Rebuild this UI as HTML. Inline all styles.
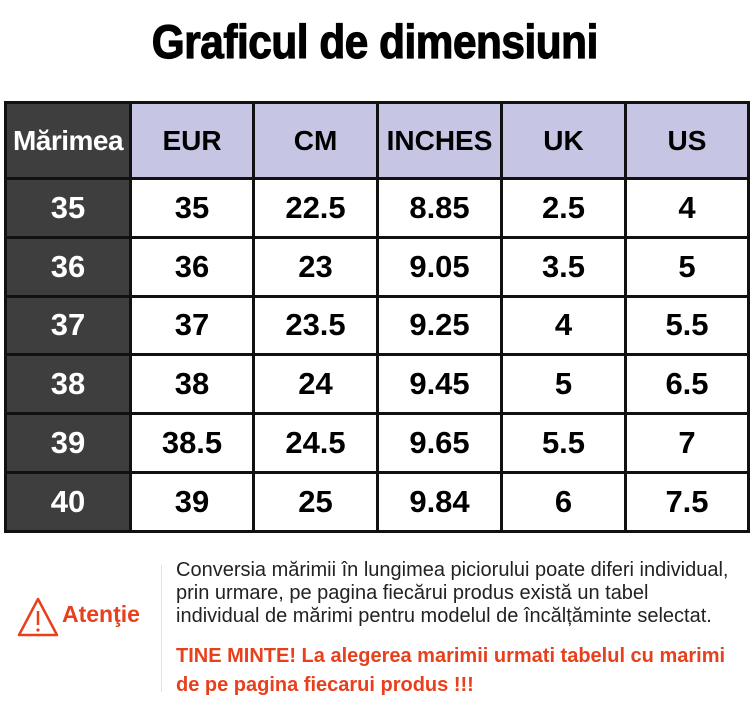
<!DOCTYPE html>
<html><head><meta charset="utf-8"><style>
body{margin:0;width:750px;height:716px;background:#fff;position:relative;overflow:hidden;font-family:"Liberation Sans",Arial,sans-serif}
.title{position:absolute;left:0;width:750px;top:14px;text-align:center}
.title span{display:inline-block;font-weight:bold;font-size:47px;transform:scaleX(0.9);letter-spacing:-0.5px;color:#000;-webkit-text-stroke:1.2px #000}
table{position:absolute;left:4px;top:101px;border-collapse:collapse}
td{border:3px solid #111;text-align:center;font-weight:bold;padding:0;color:#000}
tr.h td{height:73px;background:#c6c6e4;font-size:28px}
tr.r td{height:55.8px;font-size:31px}
td.d,tr.h td.d{background:#3e3e3e;color:#fff}
tr.h td.d{font-size:28px;letter-spacing:-0.5px}
.sep{position:absolute;left:161px;top:565px;width:1px;height:127px;background:#e2e2e2}
.att{position:absolute;left:62px;top:601px;color:#e8401c;font-weight:bold;font-size:23px}
.txt{position:absolute;left:176px;top:559px;font-size:20px;line-height:22.8px;color:#222;white-space:nowrap}
.red{position:absolute;left:176px;top:642px;font-size:20px;line-height:29px;color:#e8401c;font-weight:bold;white-space:nowrap}
</style></head><body>
<div class="title"><span>Graficul de dimensiuni</span></div>
<table>
<colgroup><col style="width:125px"><col style="width:123px"><col style="width:124px"><col style="width:124px"><col style="width:124px"><col style="width:123px"></colgroup>
<tr class="h"><td class="d">Mărimea</td><td>EUR</td><td>CM</td><td>INCHES</td><td>UK</td><td>US</td></tr>
<tr class="r"><td class="d">35</td><td>35</td><td>22.5</td><td>8.85</td><td>2.5</td><td>4</td></tr>
<tr class="r"><td class="d">36</td><td>36</td><td>23</td><td>9.05</td><td>3.5</td><td>5</td></tr>
<tr class="r"><td class="d">37</td><td>37</td><td>23.5</td><td>9.25</td><td>4</td><td>5.5</td></tr>
<tr class="r"><td class="d">38</td><td>38</td><td>24</td><td>9.45</td><td>5</td><td>6.5</td></tr>
<tr class="r"><td class="d">39</td><td>38.5</td><td>24.5</td><td>9.65</td><td>5.5</td><td>7</td></tr>
<tr class="r"><td class="d">40</td><td>39</td><td>25</td><td>9.84</td><td>6</td><td>7.5</td></tr>
</table>
<svg style="position:absolute;left:16px;top:596px" width="44" height="42"><polygon points="22,3 41,39 3,39" fill="none" stroke="#e8401c" stroke-width="2.5" stroke-linejoin="round"/><line x1="22" y1="15" x2="22" y2="29" stroke="#e8401c" stroke-width="2.5"/><circle cx="22" cy="34" r="1.6" fill="#e8401c"/></svg>
<div class="att">Atenţie</div>
<div class="sep"></div>
<div class="txt">Conversia mărimii în lungimea piciorului poate diferi individual,<br>prin urmare, pe pagina fiecărui produs există un tabel<br>individual de mărimi pentru modelul de încălțăminte selectat.</div>
<div class="red">TINE MINTE! La alegerea marimii urmati tabelul cu marimi<br>de pe pagina fiecarui produs !!!</div>
</body></html>
